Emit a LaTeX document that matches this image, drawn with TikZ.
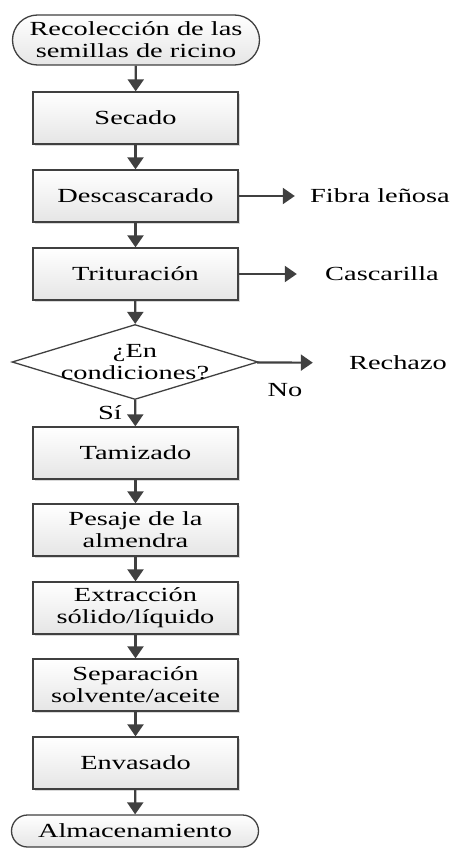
\documentclass[tikz,border=0pt]{standalone}
\usepackage{fontspec}
\setmainfont{Liberation Serif}[FakeStretch=1.42]
\usetikzlibrary{shapes.geometric,shapes.misc,shadows,arrows.meta}
\definecolor{linegray}{HTML}{404040}

\tikzset{
box/.style={rectangle, minimum width=205pt, minimum height=52pt, draw=linegray,
line width=1.3pt, top color=white, bottom color=gray!20, align=center,
drop shadow={shadow xshift=2pt, shadow yshift=-2pt, opacity=0.3}},
term/.style={rounded rectangle, minimum width=247pt, draw=linegray,
line width=1.3pt, top color=white, bottom color=gray!20, align=center, inner sep=0pt},
decision/.style={diamond, draw=linegray, line width=1.3pt, fill=white,
minimum width=246pt, minimum height=75pt, inner sep=0pt},
outtext/.style={minimum width=170pt, inner sep=0pt, align=center},
flow/.style={draw=linegray, line width=2.2pt, -{Triangle[width=16pt,length=12pt]}}
}

\begin{document}
\begin{tikzpicture}[font=\fontsize{20}{22}\selectfont]
% 1px = 1pt, y downwards
\useasboundingbox (0pt, 0pt) rectangle (458pt, -853pt);
\node[term, minimum height=50pt] (start) at (136pt, -40pt) {Recolección de las\\semillas de ricino};
\node[box] (secado) at (135.5pt, -118pt) {Secado};
\node[box] (descas) at (135.5pt, -196pt) {Descascarado};
\node[box] (tritur) at (135.5pt, -274pt) {Trituración};
\node[decision] (cond) at (135pt, -362pt) {};
	\node[align=center] (condtext) at (cond) {¿En\\condiciones?};
\node[box] (tamiz) at (135.5pt, -453pt) {Tamizado};
\node[box] (pesaje) at (135.5pt, -530pt) {Pesaje de la\\almendra};
\node[box] (extrac) at (135.5pt, -608pt) {Extracción\\sólido/líquido};
\node[box] (separ) at (135.5pt, -685pt) {Separación\\solvente/aceite};
\node[box] (envas) at (135.5pt, -763pt) {Envasado};
\node[term, minimum height=32pt] (stop) at (135pt, -831pt) {Almacenamiento};

% salidas laterales
\node[outtext] (fibra) at (380pt, -196pt) {Fibra leñosa};
\node[outtext] (cascar) at (382pt, -274pt) {Cascarilla};
\node[outtext] (rechazo) at (398pt, -363pt) {Rechazo};
\node (no) at (285pt, -390pt) {No};
\node (si) at (110pt, -413pt) {Sí};

\draw[flow] (start) -- (secado);
\draw[flow] (secado) -- (descas);
\draw[flow] (descas) -- (tritur);
\draw[flow] (tritur) -- (cond);
\draw[flow] (cond) -- (tamiz);
\draw[flow] (tamiz) -- (pesaje);
\draw[flow] (pesaje) -- (extrac);
\draw[flow] (extrac) -- (separ);
\draw[flow] (separ) -- (envas);
\draw[flow] (envas) -- (stop);
\draw[flow] (descas) -- (fibra);
\draw[flow] (tritur) -- (cascar);
\draw[flow] (cond) -- (rechazo);
\end{tikzpicture}
\end{document}
